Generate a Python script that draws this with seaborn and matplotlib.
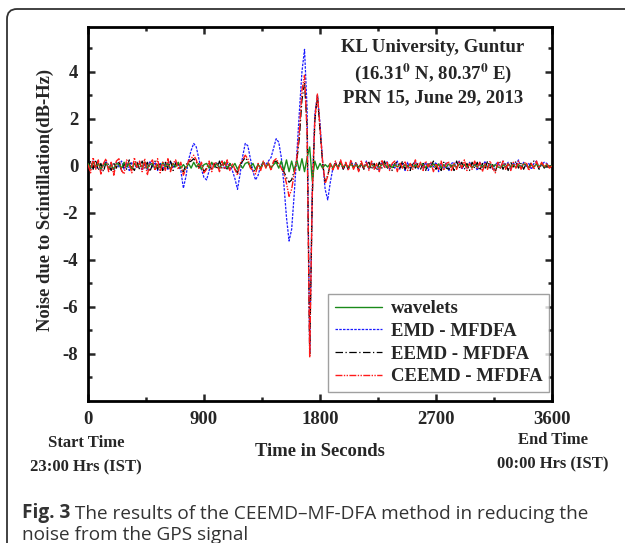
import numpy as np
import pandas as pd
import seaborn as sns
import matplotlib
matplotlib.use("Agg")
import matplotlib.pyplot as plt
from matplotlib.patches import FancyBboxPatch

# ---------------- data (20 s steps) ----------------
time_s = list(range(0, 3601, 20))

ceemd = [
    0.05, -0.30, 0.35, -0.15, 0.25, -0.35, 0.10, 0.30, -0.25, 0.15,
    -0.40, 0.20, 0.30, -0.20, -0.35, 0.25, 0.05, -0.30, 0.35, -0.10,
    0.20, -0.25, 0.30, -0.40, 0.10, 0.25, -0.20, 0.30, -0.30, 0.15,
    -0.20, 0.30, -0.25, 0.10, 0.25, -0.15, 0.15, -0.40, -0.10, 0.20,
    0.30, 0.45, 0.25, -0.10, 0.15, -0.30, -0.15, 0.20, -0.25, 0.15,
    0.10, -0.25, 0.20, -0.15, 0.25, -0.20, 0.10, -0.15, -0.40, 0.10,
    0.25, 0.45, 0.30, -0.10, -0.20, -0.35, 0.10, -0.20, 0.20, -0.10,
    0.15, -0.20, 0.20, 0.30, 0.10, -0.10, -0.30, -0.75, -1.30, -1.00,
    -0.35, 0.30, 1.50, 3.20, 3.85, 1.40, -8.15, -1.20, 2.00, 3.05,
    1.60, 0.20, -0.75, -0.45, 0.10, -0.20, 0.20, -0.15, 0.25, -0.10,
    0.15, -0.20, 0.25, -0.15, 0.10, -0.25, 0.20, -0.10, 0.15, -0.20,
    0.20, -0.15, 0.10, -0.25, 0.25, -0.10, 0.15, -0.20, 0.10, 0.20,
    -0.25, 0.15, -0.10, 0.20, -0.20, 0.10, -0.15, 0.25, -0.10, 0.15,
    -0.20, 0.20, -0.05, 0.15, -0.25, 0.10, -0.15, 0.20, -0.20, 0.10,
    0.15, -0.20, 0.10, -0.15, 0.20, -0.10, 0.25, -0.20, 0.10, -0.15,
    0.20, -0.10, 0.15, -0.25, 0.10, -0.15, 0.20, -0.10, -0.30, 0.15,
    -0.10, 0.20, -0.15, 0.10, -0.20, 0.15, -0.10, 0.20, -0.15, 0.10,
    0.15, -0.20, 0.10, -0.15, 0.20, -0.10, 0.15, -0.05, 0.10, -0.10,
    0.00,
]

eemd = [
    -0.10, 0.20, -0.15, 0.25, -0.20, 0.10, -0.25, 0.15, 0.05, -0.20,
    0.15, -0.10, 0.20, -0.25, 0.10, -0.15, 0.25, -0.05, -0.20, 0.15,
    -0.15, 0.20, -0.10, 0.15, -0.25, 0.05, 0.20, -0.15, 0.10, -0.20,
    0.15, -0.10, 0.20, -0.20, 0.10, 0.05, -0.15, -0.25, 0.05, 0.15,
    0.20, 0.30, 0.15, -0.10, 0.10, -0.25, -0.10, 0.15, -0.20, 0.10,
    -0.15, 0.20, -0.10, 0.15, -0.20, 0.10, -0.05, -0.15, -0.30, 0.05,
    0.20, 0.35, 0.20, -0.05, -0.15, -0.25, 0.05, -0.15, 0.15, -0.05,
    0.10, -0.15, 0.15, 0.20, 0.05, -0.10, -0.25, -0.50, -0.70, -0.60,
    -0.20, 0.20, 1.20, 2.80, 3.50, 1.60, -8.00, -1.40, 1.90, 3.00,
    1.50, 0.15, -0.70, -0.40, 0.05, -0.15, 0.15, -0.10, 0.20, -0.15,
    0.10, -0.15, 0.20, -0.10, 0.15, -0.20, 0.10, -0.15, 0.05, 0.15,
    -0.15, 0.10, -0.20, 0.15, -0.10, 0.20, -0.15, 0.05, -0.20, 0.10,
    0.15, -0.10, 0.20, -0.15, 0.05, -0.20, 0.15, -0.10, 0.10, -0.15,
    0.10, -0.20, 0.15, -0.05, 0.20, -0.15, 0.10, -0.20, 0.15, -0.10,
    -0.15, 0.10, -0.20, 0.20, -0.10, 0.15, -0.15, 0.10, -0.20, 0.15,
    -0.10, 0.15, -0.20, 0.10, -0.15, 0.20, -0.10, 0.05, -0.25, 0.10,
    0.15, -0.15, 0.10, -0.20, 0.15, -0.05, 0.20, -0.10, 0.10, -0.15,
    0.10, -0.10, 0.15, 0.20, 0.10, -0.15, 0.10, -0.10, 0.05, -0.05,
    0.00,
]

emd = [
    0.10, -0.15, 0.20, -0.10, 0.15, -0.20, 0.05, 0.20, -0.15, 0.10,
    -0.20, 0.15, -0.05, 0.20, -0.15, 0.10, -0.20, 0.15, 0.05, -0.10,
    0.15, -0.20, 0.10, -0.15, 0.20, -0.05, 0.15, -0.20, 0.10, -0.15,
    0.10, -0.15, 0.20, -0.10, 0.15, 0.05, -0.20, -0.95, -0.45, 0.25,
    0.65, 0.95, 0.80, 0.30, -0.15, -0.50, -0.60, -0.20, 0.10, -0.05,
    0.15, -0.10, 0.20, -0.15, 0.10, 0.05, -0.20, -0.55, -1.00, -0.35,
    0.40, 0.95, 0.85, 0.30, -0.25, -0.60, -0.40, 0.00, 0.15, 0.05,
    0.20, 0.35, 0.75, 1.15, 1.00, 0.35, -0.80, -2.20, -3.20, -2.70,
    -1.20, 0.50, 2.30, 4.00, 4.95, 2.40, -7.90, -1.00, 2.20, 3.00,
    1.80, 0.20, -1.00, -1.45, -0.70, -0.10, 0.15, -0.10, 0.20, -0.15,
    0.10, -0.15, 0.20, -0.05, 0.15, -0.20, 0.10, -0.10, 0.20, -0.15,
    0.15, -0.10, 0.05, -0.20, 0.15, -0.05, 0.20, -0.15, 0.10, -0.10,
    0.20, -0.15, 0.10, -0.20, 0.15, -0.10, 0.05, 0.20, -0.15, 0.10,
    -0.10, 0.15, -0.20, 0.10, -0.05, 0.15, -0.25, 0.10, -0.10, 0.15,
    -0.20, 0.10, 0.15, -0.10, 0.20, -0.15, 0.05, -0.10, 0.15, -0.05,
    0.10, -0.20, 0.15, -0.10, 0.20, -0.05, 0.10, -0.15, 0.05, 0.15,
    -0.10, 0.20, -0.05, 0.15, -0.15, 0.10, 0.05, 0.25, -0.10, 0.15,
    -0.05, 0.10, -0.15, 0.10, 0.20, -0.10, 0.05, 0.15, 0.10, -0.05,
    0.00,
]

wavelets = [
    0.10, -0.10, 0.15, -0.05, 0.10, -0.15, 0.05, 0.10, -0.10, 0.05,
    -0.15, 0.10, 0.05, -0.10, 0.15, -0.05, 0.10, -0.15, 0.10, -0.05,
    0.10, -0.05, 0.15, -0.10, 0.05, 0.10, -0.15, 0.05, -0.10, 0.15,
    -0.05, 0.10, -0.15, 0.10, -0.05, 0.15, -0.10, 0.05, -0.10, 0.10,
    -0.10, 0.15, -0.05, 0.10, -0.15, 0.05, 0.10, -0.10, 0.15, -0.05,
    0.10, -0.10, 0.05, 0.15, -0.10, 0.10, -0.05, 0.10, -0.15, 0.05,
    -0.10, 0.10, 0.15, -0.05, 0.10, -0.15, 0.05, -0.10, 0.15, -0.05,
    0.10, -0.10, 0.05, 0.15, -0.10, 0.20, -0.20, 0.25, -0.25, 0.20,
    -0.25, 0.25, -0.20, 0.30, -0.25, 0.35, 0.80, -0.65, 0.20, -0.15,
    0.10, -0.10, 0.05, -0.05, 0.10, -0.10, 0.05, -0.05, 0.10, -0.05,
    0.05, -0.05, 0.08, -0.08, 0.05, -0.05, 0.08, -0.05, 0.05, -0.08,
    0.08, -0.05, 0.05, -0.08, 0.05, 0.08, -0.05, 0.05, -0.08, 0.05,
    -0.05, 0.08, -0.08, 0.05, -0.05, 0.08, -0.05, 0.05, -0.08, 0.08,
    0.05, -0.08, 0.05, -0.05, 0.08, -0.05, 0.08, -0.08, 0.05, -0.05,
    0.08, -0.05, 0.05, -0.08, 0.08, -0.05, 0.05, -0.05, 0.08, -0.08,
    0.05, -0.05, 0.08, -0.05, 0.05, -0.08, 0.08, -0.05, 0.05, -0.05,
    -0.08, 0.05, -0.05, 0.08, -0.05, 0.05, -0.08, 0.05, -0.05, 0.08,
    0.05, -0.08, 0.05, -0.05, 0.08, -0.05, 0.10, -0.05, 0.05, -0.05,
    0.00,
]

series_names = ["wavelets", "EMD - MFDFA", "EEMD - MFDFA", "CEEMD - MFDFA"]
x_ticks = [0, 900, 1800, 2700, 3600]
y_ticks = [-8, -6, -4, -2, 0, 2, 4]

# ---------------- styling ----------------
sns.set_theme(style="ticks")
plt.rcParams["font.family"] = ["Liberation Serif", "DejaVu Serif"]
plt.rcParams["font.weight"] = "bold"
plt.rcParams["mathtext.fontset"] = "stix"

W, H = 625, 543
fig = plt.figure(figsize=(W / 100, H / 100), dpi=100)
ax = fig.add_axes([88 / W, 1 - 401 / H, (552 - 88) / W, (401 - 27) / H])

df = pd.DataFrame({
    "t": time_s * 4,
    "v": wavelets + emd + eemd + ceemd,
    "s": [n for n in series_names for _ in time_s],
})

styles = {
    "wavelets": dict(color="#1a8a1a", ls="-", lw=1.0, z=3),
    "EMD - MFDFA": dict(color="#1a1aff", ls=(0, (2, 1)), lw=0.9, z=2),
    "EEMD - MFDFA": dict(color="black", ls=(0, (6, 2, 1, 2)), lw=0.9, z=2.5),
    "CEEMD - MFDFA": dict(color="#ff1a1a", ls=(0, (5, 1, 1, 1, 1, 1)), lw=1.0, z=4),
}

for name in series_names:
    st = styles[name]
    sub = df[df["s"] == name]
    sns.lineplot(data=sub, x="t", y="v", ax=ax, color=st["color"],
                 linestyle=st["ls"], linewidth=st["lw"], zorder=st["z"],
                 estimator=None, sort=False, label=name)

ax.set_xlim(0, 3600)
ax.set_ylim(-10, 5.9)
ax.set_xticks(x_ticks)
ax.set_xticks([450, 1350, 2250, 3150], minor=True)
ax.set_yticks(y_ticks)
ax.set_yticks([-9, -7, -5, -3, -1, 1, 3, 5], minor=True)
ax.set_xticklabels([str(v) for v in x_ticks])
ax.set_yticklabels([str(v) for v in y_ticks])
ax.tick_params(which="both", direction="in", top=True, right=True,
               labelsize=13.5, width=1.8, pad=7)
ax.tick_params(which="major", length=5)
ax.tick_params(which="minor", length=3)
for lab in ax.get_xticklabels() + ax.get_yticklabels():
    lab.set_fontweight("bold")
for sp in ax.spines.values():
    sp.set_linewidth(2.0)
    sp.set_color("black")
ax.set_xlabel("")
ax.set_ylabel("")

leg = ax.legend(loc="lower right", bbox_to_anchor=(0.994, 0.024),
                borderaxespad=0, fancybox=False, frameon=True,
                prop=dict(family="Liberation Serif", weight="bold", size=13.5),
                handlelength=2.5, labelspacing=0.3, borderpad=0.35,
                handletextpad=0.5)
leg.get_frame().set_edgecolor("#888888")
leg.get_frame().set_linewidth(1.0)
leg.set_zorder(10)

def fx(px):
    return px / W

def fy(py):
    return 1 - py / H

# annotation block
tkw = dict(ha="center", va="center", fontsize=13.5, fontweight="bold")
fig.text(fx(433), fy(48), "KL University, Guntur", **tkw)
fig.text(fx(433), fy(73), r"(16.31$^{\mathbf{0}}$ N, 80.37$^{\mathbf{0}}$ E)", **tkw)
fig.text(fx(433), fy(98), "PRN 15, June 29, 2013", **tkw)

# axis labels
fig.text(fx(45), fy(200), "Noise due to Scintillation(dB-Hz)", rotation=90,
         ha="center", va="center", fontsize=13.4, fontweight="bold")
fig.text(fx(320), fy(451), "Time in Seconds", ha="center", va="center",
         fontsize=13.4, fontweight="bold")
fig.text(fx(86), fy(443), "Start Time", ha="center", va="center",
         fontsize=12, fontweight="bold")
fig.text(fx(86), fy(467), "23:00 Hrs (IST)", ha="center", va="center",
         fontsize=12, fontweight="bold")
fig.text(fx(553), fy(440), "End Time", ha="center", va="center",
         fontsize=12, fontweight="bold")
fig.text(fx(553), fy(464), "00:00 Hrs (IST)", ha="center", va="center",
         fontsize=12, fontweight="bold")

# caption
cap_kw = dict(family=["Open Sans", "DejaVu Sans"], fontsize=13.7, color="#333333")
t1 = fig.text(fx(22), fy(518), "Fig. 3", fontweight="bold", va="baseline", **cap_kw)
ax.annotate(" The results of the CEEMD\u2013MF-DFA method in reducing the",
            xy=(1, 0), xycoords=t1, xytext=(0, 0), textcoords="offset points",
            va="bottom", ha="left", fontweight="normal", annotation_clip=False,
            **cap_kw)
fig.text(fx(22), fy(540), "noise from the GPS signal", fontweight="normal",
         va="baseline", **cap_kw)

# rounded frame around the figure
box = FancyBboxPatch((0.07, -0.3), 6.6, (H - 9) / 100 + 0.3,
                     boxstyle="round,pad=0,rounding_size=0.1",
                     transform=fig.dpi_scale_trans, fill=False,
                     edgecolor="#333333", linewidth=1.3, clip_on=False)
fig.patches.append(box)

fig.savefig("out.png", dpi=100)
